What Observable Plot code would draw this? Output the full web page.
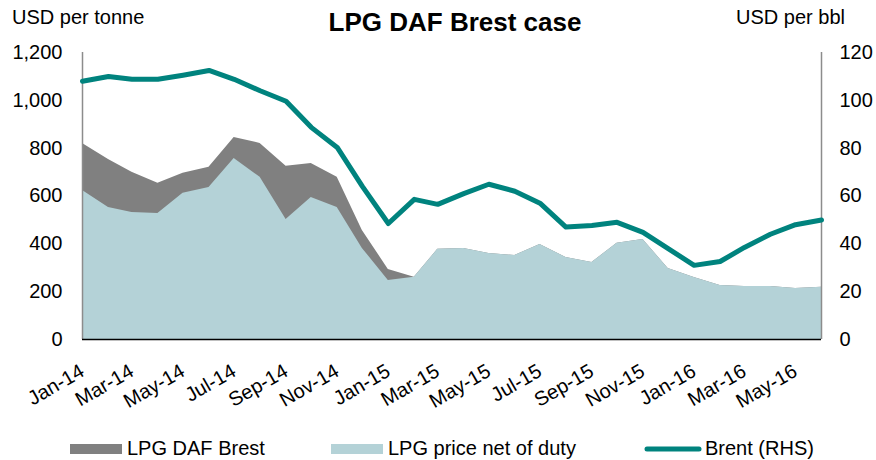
<!DOCTYPE html>
<html>
<head>
<meta charset="utf-8">
<script src="https://cdn.jsdelivr.net/npm/d3@7"></script>
<script src="https://cdn.jsdelivr.net/npm/@observablehq/plot@0.6"></script>
<style>
  html, body { margin: 0; padding: 0; background: #fff; }
  svg { font-family: "Liberation Sans", Arial, sans-serif; }
</style>
</head>
<body>
<div id="chart"></div>
<script>
const months = ["2014-01","2014-02","2014-03","2014-04","2014-05","2014-06","2014-07","2014-08","2014-09","2014-10","2014-11","2014-12",
  "2015-01","2015-02","2015-03","2015-04","2015-05","2015-06","2015-07","2015-08","2015-09","2015-10","2015-11","2015-12",
  "2016-01","2016-02","2016-03","2016-04","2016-05","2016-06"];
const lpgDafBrest = [820,753,699,653,695,720,845,820,724,736,678,456,293,260,377,381,360,351,397,343,322,402,418,297,259,226,222,222,213,218];
const lpgNetOfDuty = [623,552,531,527,611,636,757,678,502,594,552,381,247,260,377,381,360,351,397,343,322,402,418,297,259,226,222,222,213,218];
const brent = [108,110,108.8,108.8,110.5,112.5,108.8,104,99.6,88.7,80.3,64,48.5,58.6,56.5,61,64.9,62,57,47,47.7,49,44.8,38,31,32.6,38.5,44,48,50];
const leftTicks = [0,200,400,600,800,1000,1200];
const rightTicks = [0,20,40,60,80,100,120];
const seriesNames = ["LPG DAF Brest","LPG price net of duty","Brent (RHS)"];
const colors = ["#808080","#b4d2d7","#00837e"];
const titleText = "LPG DAF Brest case";
const leftUnit = "USD per tonne";
const rightUnit = "USD per bbl";

const parse = d3.utcParse("%Y-%m");
const data = months.map((m, i) => ({date: parse(m), total: lpgDafBrest[i], net: lpgNetOfDuty[i], brent: brent[i] * 10}));
const xTicks = data.filter((d, i) => i % 2 === 0).map(d => d.date);
const x0 = data[0].date, x1 = data[data.length - 1].date;

const chart = Plot.plot({
  width: 876,
  height: 460,
  marginLeft: 82,
  marginRight: 55,
  marginTop: 52,
  marginBottom: 121,
  style: {fontFamily: "Liberation Sans, Arial, sans-serif", fontSize: "20px", color: "#000", background: "#fff"},
  x: {type: "utc", domain: [x0, x1]},
  y: {domain: [0, 1200]},
  marks: [
    Plot.areaY(data, {x: "date", y: "total", fill: colors[0]}),
    Plot.areaY(data, {x: "date", y: "net", fill: colors[1]}),
    Plot.ruleX([x0], {y1: 0, y2: 1200, stroke: "#8c8c8c", strokeWidth: 1.5}),
    Plot.ruleX([x1], {y1: 0, y2: 1200, stroke: "#8c8c8c", strokeWidth: 1.5}),
    Plot.ruleY([0], {stroke: "#000", strokeWidth: 1.5}),
    Plot.line(data, {x: "date", y: "brent", stroke: colors[2], strokeWidth: 5, strokeLinejoin: "round"}),
    Plot.axisY({anchor: "left", ticks: leftTicks, tickSize: 0, tickPadding: 20, tickFormat: d3.format(","), fontSize: 20, label: null}),
    Plot.axisY({anchor: "right", ticks: rightTicks.map(v => v * 10), tickSize: 0, tickPadding: 18, tickFormat: d => String(d / 10), fontSize: 20, label: null}),
    Plot.axisX({ticks: xTicks, tickFormat: d3.utcFormat("%b-%y"), tickRotate: -30, tickSize: 0, tickPadding: 30, fontSize: 20, label: null})
  ]
});

const svg = d3.select(chart);
svg.append("text").attr("x", 455).attr("y", 31).attr("text-anchor", "middle")
  .attr("font-size", 26).attr("font-weight", "bold").attr("fill", "#000").text(titleText);
svg.append("text").attr("x", 12).attr("y", 24).attr("text-anchor", "start").attr("font-size", 20).attr("fill", "#000").text(leftUnit);
svg.append("text").attr("x", 845).attr("y", 24).attr("text-anchor", "end").attr("font-size", 20).attr("fill", "#000").text(rightUnit);

const leg = svg.append("g");
const legX = [70, 331, 645];
seriesNames.forEach((name, i) => {
  if (i < 2) {
    leg.append("rect").attr("x", legX[i]).attr("y", 444).attr("width", 52).attr("height", 10).attr("fill", colors[i]);
  } else {
    leg.append("line").attr("x1", legX[i] + 2).attr("x2", legX[i] + 54).attr("y1", 449).attr("y2", 449)
      .attr("stroke", colors[i]).attr("stroke-width", 5).attr("stroke-linecap", "round");
  }
  leg.append("text").attr("x", legX[i] + (i < 2 ? 57 : 60)).attr("y", 455).attr("text-anchor", "start")
    .attr("font-size", 20).attr("fill", "#000").text(name);
});

document.getElementById("chart").appendChild(chart);
</script>
</body>
</html>
